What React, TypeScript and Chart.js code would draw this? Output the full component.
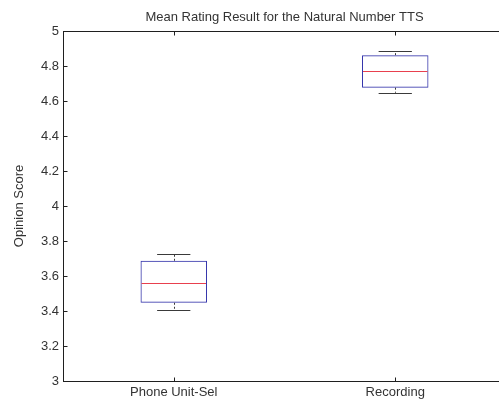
import React, { useEffect, useRef } from "react";
import { Chart, registerables } from "chart.js";

Chart.register(...registerables);

const categories = ["Phone Unit-Sel", "Recording"];
const whiskerLow = [3.405, 4.647];
const q1 = [3.447, 4.676];
const medians = [3.562, 4.77];
const q3 = [3.687, 4.862];
const whiskerHigh = [3.727, 4.885];
const yTicks = [3, 3.2, 3.4, 3.6, 3.8, 4, 4.2, 4.4, 4.6, 4.8, 5];

const FONT = "'Liberation Sans', Arial, sans-serif";
const AXIS = "#1f1f1f";
const TEXT = "#333333";
const BOX = "rgb(50,50,170)";
const MED = "#e8404e";
const CAP = "#3a3a3a";

const boxPlugin = {
  id: "boxExtras",
  afterDatasetsDraw(chart: any) {
    const ctx = chart.ctx;
    const xs = chart.scales.x;
    const ys = chart.scales.y;
    const meta = chart.getDatasetMeta(0);
    ctx.save();
    meta.data.forEach((bar: any, i: number) => {
      const cx = xs.getPixelForValue(i);
      const half = bar.width / 2;
      // whiskers
      ctx.lineWidth = 1;
      ctx.strokeStyle = CAP;
      ctx.setLineDash([2, 2]);
      const xw = Math.round(cx) + 0.5;
      ctx.beginPath();
      ctx.moveTo(xw, ys.getPixelForValue(q3[i]));
      ctx.lineTo(xw, ys.getPixelForValue(whiskerHigh[i]));
      ctx.moveTo(xw, ys.getPixelForValue(q1[i]));
      ctx.lineTo(xw, ys.getPixelForValue(whiskerLow[i]));
      ctx.stroke();
      ctx.setLineDash([]);
      // caps
      const yh = Math.round(ys.getPixelForValue(whiskerHigh[i])) + 0.5;
      const yl = Math.round(ys.getPixelForValue(whiskerLow[i])) + 0.5;
      ctx.beginPath();
      ctx.moveTo(cx - half / 2, yh);
      ctx.lineTo(cx + half / 2, yh);
      ctx.moveTo(cx - half / 2, yl);
      ctx.lineTo(cx + half / 2, yl);
      ctx.stroke();
      // median
      ctx.strokeStyle = MED;
      ctx.lineWidth = 1;
      const ym = Math.round(ys.getPixelForValue(medians[i])) + 0.5;
      ctx.beginPath();
      ctx.moveTo(cx - half + 1, ym);
      ctx.lineTo(cx + half - 1, ym);
      ctx.stroke();
    });
    // frame and inward ticks
    const a = chart.chartArea;
    ctx.strokeStyle = AXIS;
    ctx.lineWidth = 1;
    ctx.beginPath();
    const top = Math.round(a.top) + 0.5;
    const bottom = Math.round(a.bottom) + 0.5;
    const left = Math.round(a.left) + 0.5;
    const right = Math.round(a.right) + 0.5;
    ctx.moveTo(left, top);
    ctx.lineTo(right, top);
    ctx.lineTo(right, bottom);
    ys.ticks.forEach((t: any) => {
      const y = Math.round(ys.getPixelForValue(t.value)) + 0.5;
      ctx.moveTo(left, y);
      ctx.lineTo(left + 4, y);
      ctx.moveTo(right, y);
      ctx.lineTo(right - 4, y);
    });
    categories.forEach((_, i) => {
      const x = Math.round(xs.getPixelForValue(i)) + 0.5;
      ctx.moveTo(x, bottom);
      ctx.lineTo(x, bottom - 4);
      ctx.moveTo(x, top);
      ctx.lineTo(x, top + 4);
    });
    ctx.stroke();
    ctx.restore();
  },
};

export default function App() {
  const ref = useRef<HTMLCanvasElement>(null);
  useEffect(() => {
    if (!ref.current) return;
    const chart = new Chart(ref.current, {
      type: "bar",
      data: {
        labels: categories,
        datasets: [
          {
            data: categories.map((_, i) => [q1[i], q3[i]]) as any,
            backgroundColor: "rgba(255,255,255,0)",
            borderColor: BOX,
            borderWidth: 1,
            borderSkipped: false,
            categoryPercentage: 1,
            barPercentage: 0.3,
          },
        ],
      },
      options: {
        animation: false,
        responsive: false,
        maintainAspectRatio: false,
        layout: { padding: { left: 0, right: 4, top: 0, bottom: 0 } },
        plugins: {
          legend: { display: false },
          tooltip: { enabled: false },
          title: {
            display: true,
            fullSize: false,
            text: "Mean Rating Result for the Natural Number TTS",
            color: TEXT,
            font: { family: FONT, size: 13, weight: "normal" },
            padding: { top: 10, bottom: 5.4 },
          },
        },
        scales: {
          x: {
            offset: true,
            grid: { display: false, drawTicks: false },
            border: { display: true, color: AXIS, width: 1 },
            ticks: {
              color: TEXT,
              font: { family: FONT, size: 13 },
              padding: 4,
              maxRotation: 0,
            },
            afterFit: (s: any) => {
              s.height = 19;
            },
          },
          y: {
            min: 3,
            max: 5,
            afterBuildTicks: (s: any) => {
              s.ticks = yTicks.map((v) => ({ value: v }));
            },
            grid: { display: false, drawTicks: false },
            border: { display: true, color: AXIS, width: 1 },
            ticks: {
              color: TEXT,
              font: { family: FONT, size: 13 },
              padding: 4,
              callback: (v: any) => String(Math.round(Number(v) * 10) / 10),
            },
            title: {
              display: true,
              text: "Opinion Score",
              color: TEXT,
              font: { family: FONT, size: 13 },
              padding: { top: 12, bottom: 0 },
            },
            afterFit: (s: any) => {
              s.width = 63;
            },
          },
        },
      },
      plugins: [boxPlugin],
    });
    return () => chart.destroy();
  }, []);
  return (
    <div
      style={{
        position: "absolute",
        left: 0,
        top: 0,
        width: 499,
        height: 400,
        overflow: "hidden",
        background: "#fff",
      }}
    >
      <canvas ref={ref} width={510} height={400} style={{ display: "block" }} />
    </div>
  );
}
